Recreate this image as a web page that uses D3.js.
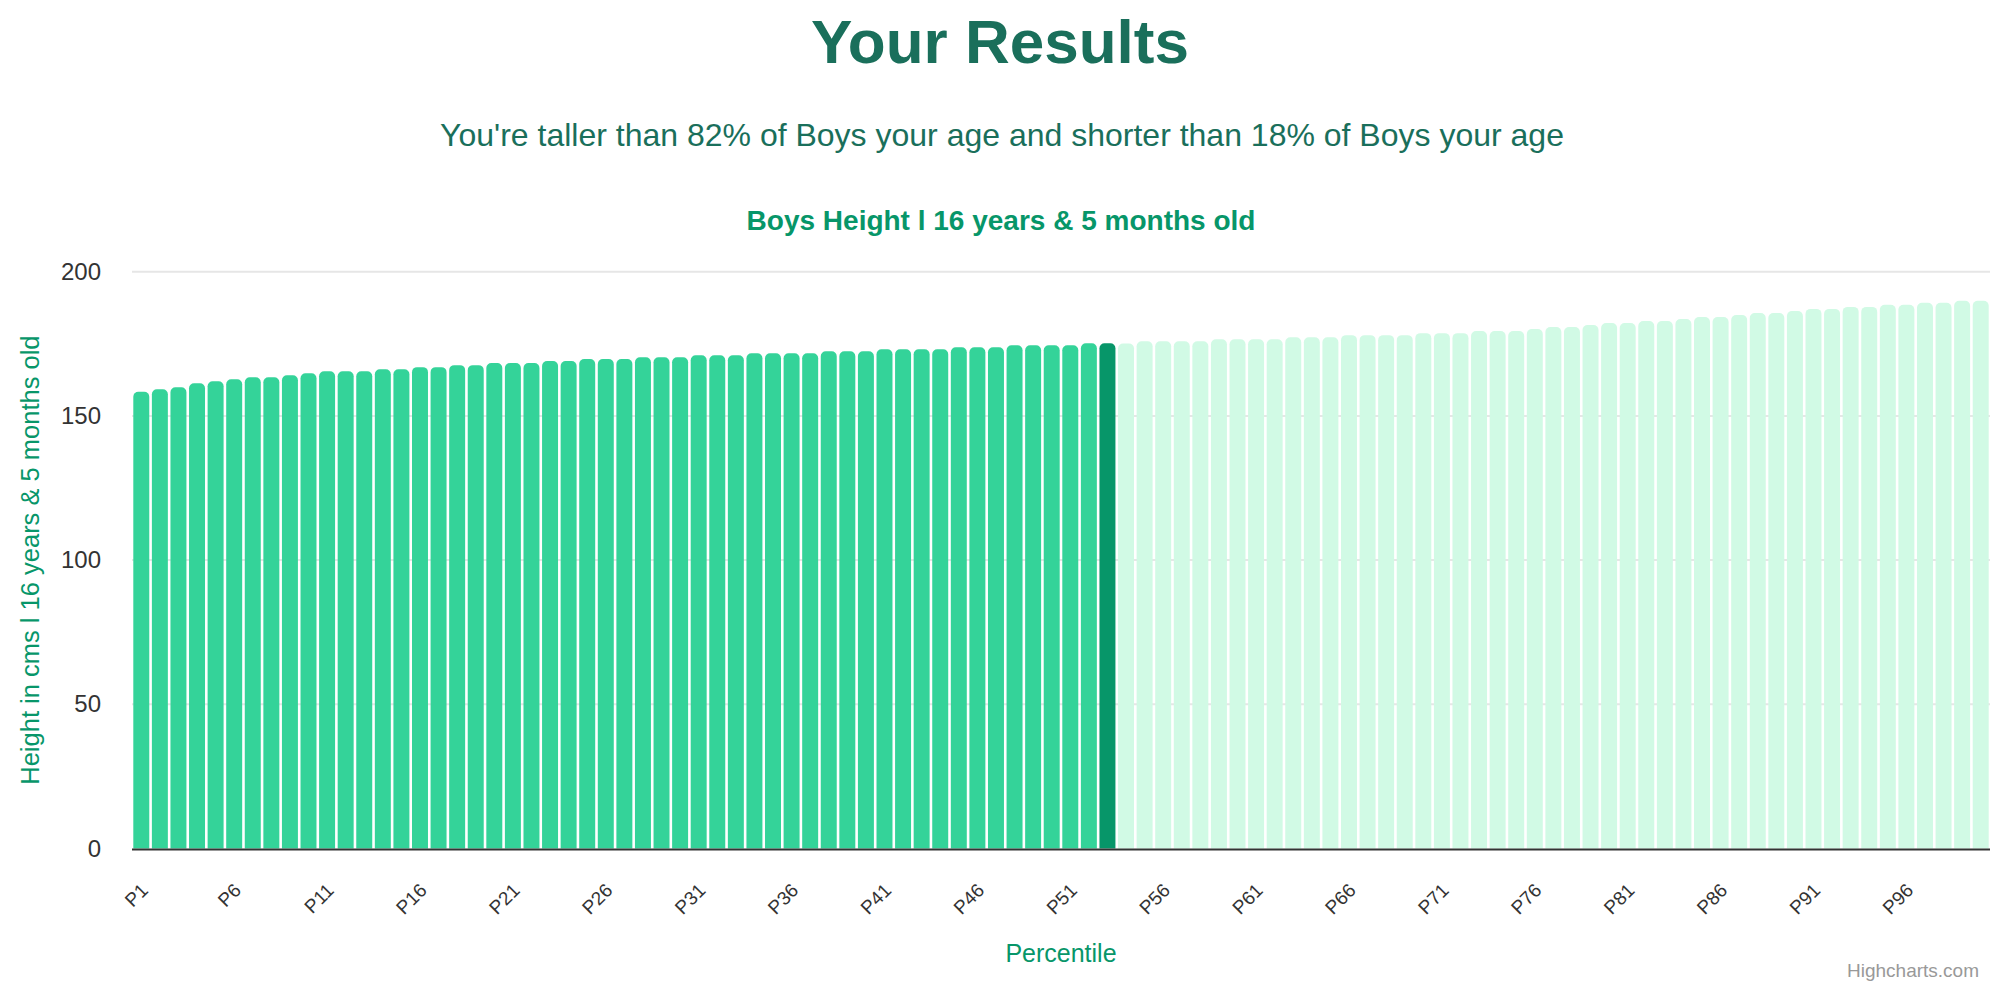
<!doctype html>
<html>
  <head>
    <title>Your Results</title>
    <script src="https://cdn.jsdelivr.net/npm/d3@7"></script>
    <style>
      body { margin: 0; background: #fff; }
      svg { display: block; font-family: "Liberation Sans", Arial, Helvetica, sans-serif; }
    </style>
  </head>
  <body>
  <script>

// percentile categories P1..P100
const percentiles = d3.range(1, 101).map(i => "P" + i);

// heights in cm
const heights = [
  158.4, 159.2, 159.9, 161.3, 162.0, 162.7, 163.4, 163.4, 164.1, 164.8,
  165.5, 165.5, 165.5, 166.2, 166.2, 166.9, 166.9, 167.6, 167.6, 168.3,
  168.3, 168.3, 169.0, 169.0, 169.7, 169.7, 169.7, 170.3, 170.3, 170.3,
  171.0, 171.0, 171.0, 171.7, 171.7, 171.7, 171.7, 172.4, 172.4, 172.4,
  173.1, 173.1, 173.1, 173.1, 173.8, 173.8, 173.8, 174.5, 174.5, 174.5,
  174.5, 175.2, 175.2, 175.1, 175.9, 175.9, 175.9, 175.9, 176.6, 176.6,
  176.6, 176.6, 177.3, 177.3, 177.3, 178.0, 178.0, 178.0, 178.0, 178.7,
  178.7, 178.7, 179.4, 179.4, 179.4, 180.1, 180.8, 180.8, 181.5, 182.2,
  182.2, 182.9, 182.9, 183.6, 184.3, 184.3, 185.0, 185.7, 185.7, 186.4,
  187.1, 187.1, 187.8, 187.8, 188.5, 188.5, 189.2, 189.2, 189.9, 189.9
];

// the user's bar
const yourPercentile = "P53";

const xTickLabels = ["P1","P6","P11","P16","P21","P26","P31","P36","P41","P46",
                     "P51","P56","P61","P66","P71","P76","P81","P86","P91","P96"];
const yTicks = [0, 50, 100, 150, 200];

const w = 2000;
const h = 990;
const plotLeft = 132, plotRight = 1990, plotTop = 271.7, plotBottom = 848.5;

const svg = d3.select("body")
  .append("svg")
  .attr("width", w)
  .attr("height", h);

// headings
svg.append("text")
  .attr("x", 1000).attr("y", 63)
  .attr("text-anchor", "middle")
  .attr("fill", "#1a6f5b")
  .style("font-size", "62px")
  .style("font-weight", "bold")
  .text("Your Results");

svg.append("text")
  .attr("x", 1002).attr("y", 146)
  .attr("text-anchor", "middle")
  .attr("fill", "#1a6f5b")
  .style("font-size", "32px")
  .text("You're taller than 82% of Boys your age and shorter than 18% of Boys your age");

svg.append("text")
  .attr("x", 1001).attr("y", 230)
  .attr("text-anchor", "middle")
  .attr("fill", "#079669")
  .style("font-size", "28px")
  .style("font-weight", "bold")
  .text("Boys Height l 16 years & 5 months old");

// scales
const x = d3.scaleBand()
  .domain(percentiles)
  .range([plotLeft, plotRight])
  .paddingInner(0.14)
  .paddingOuter(0.07);

const y = d3.scaleLinear()
  .domain([0, 200])
  .range([plotBottom, plotTop]);

// grid
svg.append("g")
  .selectAll("line")
  .data(yTicks.filter(d => d > 0))
  .enter()
  .append("line")
  .attr("x1", plotLeft).attr("x2", plotRight)
  .attr("y1", d => y(d)).attr("y2", d => y(d))
  .attr("stroke", "#e6e6e6")
  .attr("stroke-width", 2);

// y axis labels
const yAxis = svg.append("g")
  .attr("transform", "translate(101,0)")
  .call(d3.axisLeft(y).tickValues(yTicks).tickSize(0).tickPadding(0));
yAxis.select(".domain").remove();
yAxis.selectAll("text")
  .attr("fill", "#333")
  .style("font-size", "24px")
  .style("font-family", "inherit");

// bars, rounded top only
function barPath(x0, y0, bw, bh, r) {
  r = Math.min(r, bh, bw / 2);
  return `M${x0},${y0 + bh}V${y0 + r}A${r},${r} 0 0 1 ${x0 + r},${y0}` +
         `H${x0 + bw - r}A${r},${r} 0 0 1 ${x0 + bw},${y0 + r}V${y0 + bh}Z`;
}

const yourIndex = percentiles.indexOf(yourPercentile);

svg.append("g")
  .selectAll("path")
  .data(heights)
  .enter()
  .append("path")
  .attr("d", (d, i) => barPath(x(percentiles[i]), y(d), x.bandwidth(), y(0) - y(d), 5))
  .attr("fill", (d, i) => i < yourIndex ? "#34d399" : i === yourIndex ? "#079669" : "#d1fae5");

// x axis
const xAxis = svg.append("g")
  .attr("transform", `translate(0,${plotBottom})`)
  .call(d3.axisBottom(x).tickValues(xTickLabels).tickSize(0));
xAxis.select(".domain")
  .attr("stroke", "#333")
  .attr("stroke-width", 2)
  .attr("d", `M${plotLeft},1H${plotRight}`);
xAxis.selectAll("text")
  .attr("y", 0).attr("dy", 0)
  .attr("text-anchor", "end")
  .attr("transform", "translate(8,43) rotate(-45)")
  .attr("fill", "#333")
  .style("font-size", "19px")
  .style("font-family", "inherit");

// axis titles
svg.append("text")
  .attr("transform", `translate(39,${(plotTop + plotBottom) / 2}) rotate(-90)`)
  .attr("text-anchor", "middle")
  .attr("fill", "#079669")
  .style("font-size", "25.5px")
  .text("Height in cms l 16 years & 5 months old");

svg.append("text")
  .attr("x", (plotLeft + plotRight) / 2).attr("y", 962)
  .attr("text-anchor", "middle")
  .attr("fill", "#079669")
  .style("font-size", "25px")
  .text("Percentile");

svg.append("text")
  .attr("x", 1979).attr("y", 977)
  .attr("text-anchor", "end")
  .attr("fill", "#999")
  .style("font-size", "19px")
  .text("Highcharts.com");

  </script>
  </body>
</html>
